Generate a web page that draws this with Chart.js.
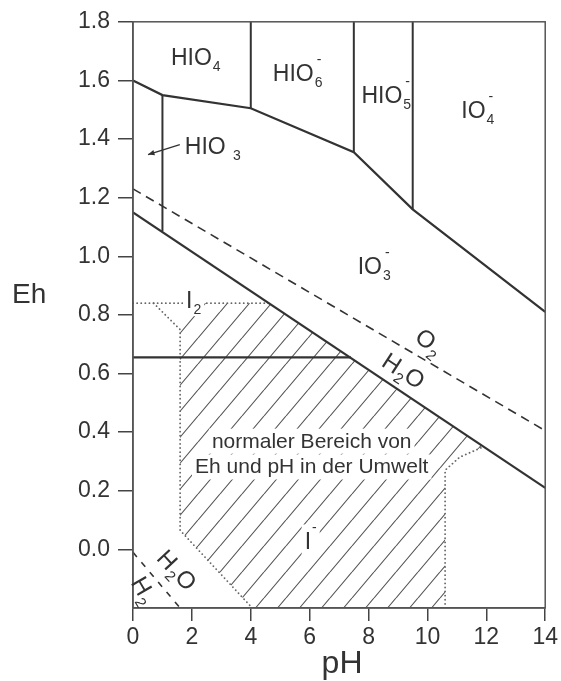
<!DOCTYPE html>
<html>
<head>
<meta charset="utf-8">
<title>Eh-pH Diagramm Iod</title>
<script src="https://cdn.jsdelivr.net/npm/chart.js@4.4.1/dist/chart.umd.min.js"></script>
<style>
  html, body { margin: 0; padding: 0; background: #fff; }
  #wrap { width: 561px; height: 681px; position: relative; }
</style>
</head>
<body>
<div id="wrap"><canvas id="ehph"></canvas></div>
<script>
// axis ticks
const phTicks = [0, 2, 4, 6, 8, 10, 12, 14];
const ehTicks = [0.0, 0.2, 0.4, 0.6, 0.8, 1.0, 1.2, 1.4, 1.6, 1.8];

// HIO4 / HIO6- / HIO5- / IO4-  against  HIO3 / IO3-
const upperPh = [0, 1, 4, 7.5, 9.5, 14];
const upperEh = [1.60, 1.55, 1.505, 1.355, 1.16, 0.81];

// vertical acid/base boundaries
const vertPh = [1, 4, 7.5, 9.5];
const vertTopEh = [1.55, 1.8, 1.8, 1.8];
const vertBottomEh = [1.085, 1.505, 1.355, 1.16];

// IO3- / I-
const iodatePh = [0, 14];
const iodateEh = [1.15, 0.21];

// I2 / I-
const i2Ph = [0, 7.4];
const i2Eh = [0.655, 0.655];

// water stability: O2/H2O (dashed) and H2O/H2
const o2Ph = [0, 14];
const o2Eh = [1.23, 0.405];
const h2Ph = [0, 1.6];
const h2Eh = [-0.01, -0.2];

// normal environmental range (dotted outline + hatching)
const rangeTopPh = [0, 4.62];
const rangeTopEh = [0.84, 0.84];
const rangeLeftPh = [0.7, 1.6, 1.6, 4.05];
const rangeLeftEh = [0.84, 0.75, 0.065, -0.2];
const rangeRightPh = [10.6, 10.6, 11.1, 11.9];
const rangeRightEh = [-0.2, 0.27, 0.315, 0.35];
const hatchPh = [1.6, 2.3, 4.62, 11.9, 11.1, 10.6, 10.6, 4.05, 1.6, 1.6];
const hatchEh = [0.75, 0.84, 0.84, 0.35, 0.315, 0.27, -0.2, -0.2, 0.065, 0.75];

// species labels: text, pH, Eh (left / baseline), white backing
const speciesLabels = [
  ['HIO_4', 1.29, 1.653, false],
  ['HIO_6^-', 4.75, 1.599, false],
  ['HIO_5^-', 7.76, 1.524, false],
  ['IO_4^-', 11.15, 1.473, false],
  ['IO_3^-', 7.63, 0.939, false],
  ['HIO _3', 1.76, 1.350, false],
  ['I_2', 1.80, 0.823, true],
  ['I^-', 5.83, 0.003, true]
];
// rotated labels along the water lines: text, pH, Eh (centre), angle
const rotatedLabels = [
  ['O_2', 10.07, 0.707, 40],
  ['H_2O', 9.19, 0.609, 33],
  ['H_2O', 1.49, -0.071, 47],
  ['H_2', 0.37, -0.139, 60]
];
const rangeText = ['normaler Bereich von', 'Eh und pH in der Umwelt'];

const FONT = '"Liberation Sans", Arial, Helvetica, sans-serif';
const INK = '#333';

const pts = (xs, ys) => xs.map((x, i) => ({ x: x, y: ys[i] }));

function hatchPattern() {
  const w = 22, h = 26;
  const c = document.createElement('canvas');
  c.width = w; c.height = h;
  const g = c.getContext('2d');
  g.strokeStyle = '#555';
  g.lineWidth = 1.1;
  g.beginPath();
  for (let k = -1; k <= 1; k++) {
    g.moveTo(k * w, h);
    g.lineTo(k * w + w, 0);
  }
  g.stroke();
  return g.createPattern(c, 'repeat');
}

const solid = { borderColor: '#333', borderWidth: 2.2, pointRadius: 0, fill: false, tension: 0 };
const dotted = { borderColor: '#666', borderWidth: 1.8, borderDash: [0.1, 4], borderCapStyle: 'round', pointRadius: 0, fill: false };

const datasets = [
  Object.assign({ data: pts(upperPh, upperEh) }, solid),
  Object.assign({ data: pts(iodatePh, iodateEh) }, solid),
  Object.assign({ data: pts(i2Ph, i2Eh) }, solid),
  Object.assign({ data: pts(o2Ph, o2Eh) }, solid, { borderWidth: 1.6, borderDash: [9, 6] }),
  Object.assign({ data: pts(h2Ph, h2Eh) }, solid, { borderWidth: 1.6, borderDash: [6, 7] }),
  Object.assign({ data: pts(rangeTopPh, rangeTopEh) }, dotted),
  Object.assign({ data: pts(rangeLeftPh, rangeLeftEh) }, dotted),
  Object.assign({ data: pts(rangeRightPh, rangeRightEh) }, dotted),
  {
    data: pts(hatchPh, hatchEh), borderWidth: 0, borderColor: 'rgba(0,0,0,0)',
    backgroundColor: hatchPattern(), fill: 'shape', pointRadius: 0, order: 10
  }
];
vertPh.forEach((p, i) => {
  datasets.push(Object.assign({ data: pts([p, p], [vertTopEh[i], vertBottomEh[i]]) }, solid, { borderWidth: 2 }));
});

function tokens(s) {
  const out = [];
  for (let i = 0; i < s.length; i++) {
    const c = s[i];
    if (c === '_' || c === '^') { out.push({ t: s[i + 1], k: c }); i++; }
    else if (out.length && out[out.length - 1].k === 'n') out[out.length - 1].t += c;
    else out.push({ t: c, k: 'n' });
  }
  return out;
}

// draws a formula with sub-/superscripts, returns its width
function drawRich(ctx, s, x, y, size, draw) {
  const small = Math.round(size * 0.62);
  let cx = x, subX = null;
  for (const tk of tokens(s)) {
    if (tk.k === 'n') {
      ctx.font = size + 'px ' + FONT;
      if (draw) ctx.fillText(tk.t, cx, y);
      cx += ctx.measureText(tk.t).width;
      subX = null;
    } else if (tk.k === '_') {
      ctx.font = small + 'px ' + FONT;
      subX = cx + 1;
      if (draw) ctx.fillText(tk.t, subX, y + 6);
      cx = subX + ctx.measureText(tk.t).width;
    } else {
      ctx.font = small + 'px ' + FONT;
      const sx = subX !== null ? subX + 2 : cx + 1;
      if (draw) ctx.fillText(tk.t, sx, y - 17);
      if (subX === null) cx = sx + ctx.measureText(tk.t).width;
    }
  }
  return cx - x;
}

const annotations = {
  id: 'annotations',
  afterDatasetsDraw(chart) {
    const { ctx, chartArea: a, scales: { x, y } } = chart;
    ctx.save();
    // frame
    ctx.strokeStyle = '#555';
    ctx.lineWidth = 1.5;
    ctx.strokeRect(a.left, a.top, a.right - a.left, a.bottom - a.top);

    ctx.fillStyle = INK;
    ctx.textAlign = 'left';
    ctx.textBaseline = 'alphabetic';

    // range description with white backing
    ctx.font = '21px ' + FONT;
    rangeText.forEach((t, i) => {
      const cx = x.getPixelForValue(6.07);
      const by = y.getPixelForValue(i === 0 ? 0.347 : 0.259);
      const w = ctx.measureText(t).width;
      ctx.fillStyle = '#fff';
      ctx.fillRect(cx - w / 2 - 3, by - 19, w + 6, 25);
      ctx.fillStyle = INK;
      ctx.fillText(t, cx - w / 2, by);
    });

    speciesLabels.forEach(([s, p, e, back]) => {
      const px = x.getPixelForValue(p), py = y.getPixelForValue(e);
      if (back) {
        const w = drawRich(ctx, s, px, py, 23, false);
        ctx.fillStyle = '#fff';
        ctx.fillRect(px - 3, py - 24, w + 6, 32);
        ctx.fillStyle = INK;
      }
      drawRich(ctx, s, px, py, 23, true);
    });

    rotatedLabels.forEach(([s, p, e, deg]) => {
      ctx.save();
      ctx.translate(x.getPixelForValue(p), y.getPixelForValue(e));
      ctx.rotate(deg * Math.PI / 180);
      const w = drawRich(ctx, s, 0, 0, 24, false);
      drawRich(ctx, s, -w / 2, 8, 24, true);
      ctx.restore();
    });

    // arrow pointing into the narrow HIO3 field
    const x0 = x.getPixelForValue(1.59), y0 = y.getPixelForValue(1.381);
    const x1 = x.getPixelForValue(0.51), y1 = y.getPixelForValue(1.347);
    ctx.strokeStyle = INK;
    ctx.lineWidth = 1.4;
    ctx.beginPath();
    ctx.moveTo(x0, y0);
    ctx.lineTo(x1, y1);
    ctx.stroke();
    const ang = Math.atan2(y1 - y0, x1 - x0);
    ctx.beginPath();
    ctx.moveTo(x1, y1);
    ctx.lineTo(x1 - 7 * Math.cos(ang - 0.4), y1 - 7 * Math.sin(ang - 0.4));
    ctx.lineTo(x1 - 7 * Math.cos(ang + 0.4), y1 - 7 * Math.sin(ang + 0.4));
    ctx.closePath();
    ctx.fill();

    // axis titles
    ctx.font = '28px ' + FONT;
    ctx.fillText('Eh', 12, y.getPixelForValue(0.84));
    ctx.font = '32px ' + FONT;
    ctx.textAlign = 'center';
    ctx.fillText('pH', x.getPixelForValue(7.1), 673);
    ctx.restore();
  }
};

new Chart(document.getElementById('ehph'), {
  type: 'line',
  data: { datasets: datasets },
  options: {
    responsive: true,
    maintainAspectRatio: false,
    animation: false,
    layout: { padding: { left: 0, right: 15, top: 20, bottom: 0 } },
    plugins: { legend: { display: false }, tooltip: { enabled: false } },
    scales: {
      x: {
        type: 'linear', min: 0, max: 14,
        afterBuildTicks: s => { s.ticks = phTicks.map(v => ({ value: v })); },
        afterFit: s => { s.height = 73; },
        grid: { drawOnChartArea: false, drawTicks: true, tickLength: 13, color: '#444', lineWidth: 1.5 },
        border: { color: '#555', width: 1.5 },
        ticks: { font: { family: FONT, size: 23 }, color: INK, padding: 3, maxRotation: 0, autoSkip: false, callback: v => String(v) }
      },
      y: {
        type: 'linear', min: -0.2, max: 1.8,
        afterBuildTicks: s => { s.ticks = ehTicks.map(v => ({ value: v })); },
        afterFit: s => { s.width = 133; },
        grid: { drawOnChartArea: false, drawTicks: true, tickLength: 15, color: '#444', lineWidth: 1.5 },
        border: { color: '#555', width: 1.5 },
        ticks: { font: { family: FONT, size: 23 }, color: INK, padding: 8, autoSkip: false, callback: v => v.toFixed(1) }
      }
    }
  },
  plugins: [annotations]
});
</script>
</body>
</html>
